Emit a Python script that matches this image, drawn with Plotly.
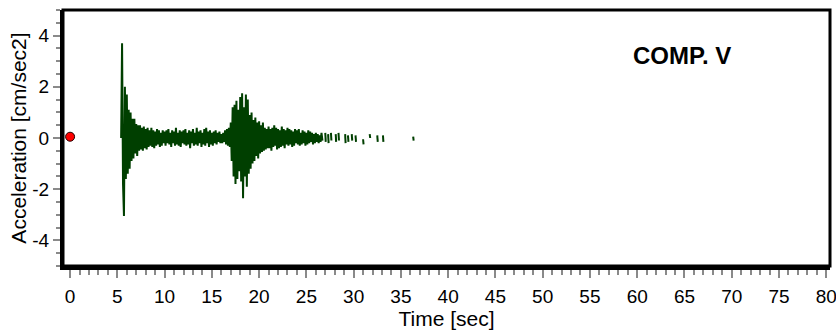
import plotly.graph_objects as go

# ---- data ----
t_start = 5.4   # first sample time [sec]
dt = 0.1        # sample interval [sec]
accel = [
    0.0, 3.7, -1.8, -3.05, 2.0, -1.6, 1.7, -1.4, 1.1, -1.2,
    1.0, -0.9, 0.75, -0.8, 0.75, -0.6, 0.55, -0.7, 0.5, -0.5,
    0.5, -0.45, 0.4, -0.5, 0.45, -0.4, 0.35, -0.45, 0.4, -0.35,
    0.3, -0.3, 0.4, -0.35, 0.3, -0.4, 0.25, -0.3, 0.35, -0.25,
    0.3, -0.35, 0.2, -0.3, 0.3, -0.2,
    0.25, -0.3, 0.3, -0.2, 0.35, -0.25, 0.2, -0.35, 0.3, -0.2,
    0.25, -0.3, 0.4, -0.25, 0.2, -0.3, 0.3, -0.35, 0.25, -0.2,
    0.3, -0.25, 0.35, -0.3, 0.2, -0.25, 0.3, -0.4, 0.25, -0.2,
    0.35, -0.3, 0.2, -0.25, 0.4, -0.3, 0.25, -0.2, 0.3, -0.35,
    0.2, -0.25, 0.35, -0.3, 0.4, -0.2, 0.25, -0.35, 0.3, -0.25,
    0.2, -0.3, 0.25, -0.2, 0.3, -0.25, 0.2, -0.15, 0.25, -0.2,
    0.15, -0.2, 0.2, -0.15, 0.3, -0.25, 0.35, -0.3, 0.4, -0.35,
    0.6, -0.9, 1.2, -1.5, 1.3, -1.8, 1.45, -1.6, 1.1, -1.3,
    1.6, -1.7, 1.75, -2.35, 1.2, -1.5, 1.7, -1.9, 1.5, -1.4,
    0.9, -1.2, 1.0, -1.0, 0.7, -0.9, 0.8, -0.7, 0.6, -0.8,
    0.65, -0.6, 0.5, -0.55, 0.6, -0.5, 0.4, -0.45, 0.35, -0.4,
    0.45, -0.4, 0.35, -0.5, 0.4, -0.35, 0.5, -0.3, 0.4, -0.45,
    0.35, -0.4, 0.3, -0.35, 0.45, -0.3, 0.35, -0.4, 0.3, -0.25,
    0.4, -0.3, 0.35, -0.25, 0.3, -0.35, 0.25, -0.3, 0.35, -0.2,
    0.3, -0.25, 0.35, -0.3, 0.2, -0.25, 0.3, -0.2, 0.25, -0.3,
    0.2, -0.25, 0.3, -0.2, 0.25, -0.15, 0.2, -0.25, 0.15, -0.2,
    0.2, -0.15, 0.15, -0.2, 0.1, -0.15, 0.2, -0.1,
]
# sparse tail fragments (time, value); None breaks the line
tail_t = [27.0, 27.05, None, 27.3, 27.35, None, 27.6, 27.65, None,
          28.1, 28.15, None, 28.4, 28.45, None, 29.1, 29.15, None,
          29.4, 29.45, None, 29.8, 29.85, None, 30.2, 30.25, None,
          31.0, 31.05, None, 31.7, 31.75, None, 32.5, 32.55, None,
          33.1, 33.15, None, 36.3, 36.35]
tail_v = [0.2, -0.15, None, 0.15, -0.2, None, 0.2, -0.1, None,
          0.15, -0.15, None, 0.2, -0.1, None, 0.15, -0.2, None,
          0.1, -0.15, None, 0.15, -0.1, None, 0.1, -0.15, None,
          -0.05, -0.25, None, 0.15, 0.0, None, 0.1, -0.15, None,
          0.1, -0.15, None, 0.05, -0.1]
marker_t = [0.0]
marker_v = [0.05]
y_tickvals = [-4, -2, 0, 2, 4]
y_ticktext = ["-4", "-2", "0", "2", "4"]
x_tickvals = list(range(0, 81, 5))
x_ticktext = [str(v) for v in x_tickvals]
title_text = "COMP. V"

times = [round(t_start + i * dt, 2) for i in range(len(accel))]

color = "#003f00"
font_reg = "Liberation Sans, Arial, sans-serif"
font_narrow = "Liberation Sans Narrow, Arial Narrow, Liberation Sans, sans-serif"

fig = go.Figure()
fig.add_trace(go.Scatter(x=times, y=accel, mode="lines",
                         line=dict(color=color, width=2), showlegend=False))
fig.add_trace(go.Scatter(x=tail_t, y=tail_v, mode="lines",
                         line=dict(color=color, width=2), showlegend=False,
                         connectgaps=False))
fig.add_trace(go.Scatter(x=marker_t, y=marker_v, mode="markers",
                         marker=dict(color="#ff0000", size=9,
                                     line=dict(color="#200000", width=1)),
                         showlegend=False))

fig.add_annotation(x=0.741, y=0.824, xref="paper", yref="paper",
                   text="<b>" + title_text + "</b>", showarrow=False,
                   font=dict(family=font_reg, size=24, color="black"),
                   xanchor="left", yanchor="middle")

# frame
fig.add_shape(type="rect", xref="paper", yref="paper", x0=0, y0=0, x1=1, y1=1,
              line=dict(color="black", width=3))

fig.update_layout(
    width=836, height=335,
    margin=dict(l=63, r=6, t=10, b=69, autoexpand=False),
    paper_bgcolor="white", plot_bgcolor="white",
    font=dict(family=font_narrow, size=19, color="black"),
    xaxis=dict(range=[-0.75, 80.4], tickvals=x_tickvals, ticktext=x_ticktext,
               automargin=False, ticklabeloverflow="allow",
               ticks="outside", ticklen=8, tickwidth=2, tickcolor="#8a8a8a",
               showgrid=False, zeroline=False, showline=True,
               linecolor="black", linewidth=4,
               minor=dict(dtick=1, ticks="outside", ticklen=5, tickwidth=2,
                          tickcolor="#8a8a8a", showgrid=False),
               title=dict(text="Time [sec]", font=dict(size=21), standoff=4),
               ticklabelstandoff=2),
    yaxis=dict(range=[-5, 5], tickvals=y_tickvals, ticktext=y_ticktext,
               automargin=False, ticklabeloverflow="allow",
               ticks="outside", ticklen=7, tickwidth=2, tickcolor="#8a8a8a",
               showgrid=False, zeroline=False, showline=True,
               linecolor="black", linewidth=3,
               minor=dict(dtick=0.5, ticks="outside", ticklen=4, tickwidth=2,
                          tickcolor="#8a8a8a", showgrid=False),
               title=dict(text="Acceleration [cm/sec2]",
                          font=dict(family=font_reg, size=21),
                          standoff=0)),
)

fig.write_html("out.html",
               config={"displayModeBar": False},
               post_script="document.body.style.margin='0';"
                           "document.body.style.overflow='hidden';")
